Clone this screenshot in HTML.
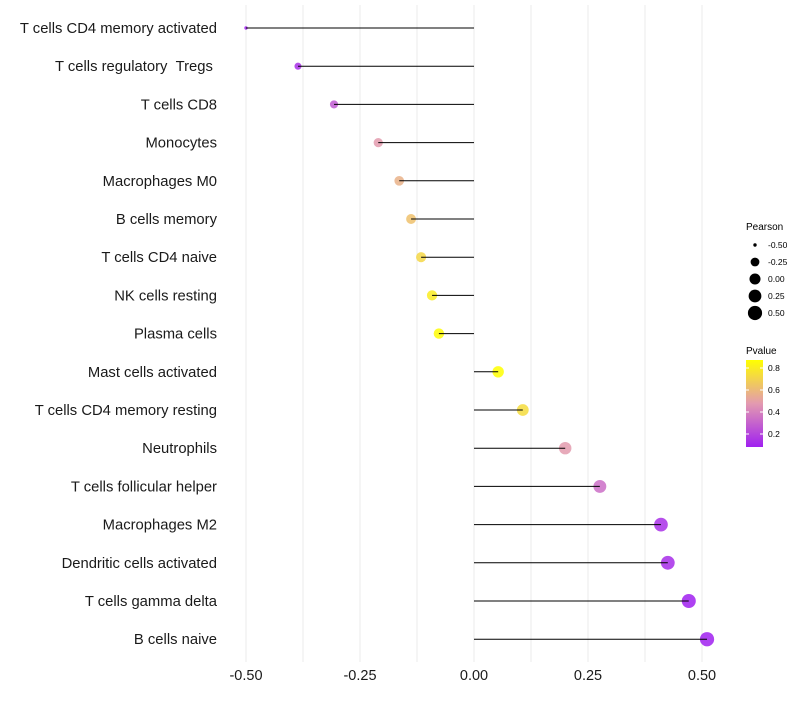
<!DOCTYPE html>
<html><head><meta charset="utf-8"><style>
body{margin:0;background:#fff;font-family:"Liberation Sans",sans-serif;}
svg text{font-family:"Liberation Sans",sans-serif;}
</style></head><body>
<svg id="c" width="800" height="700">
<defs><linearGradient id="pg" x1="0" y1="1" x2="0" y2="0">
<stop offset="0" stop-color="#A020F0"/><stop offset="0.5" stop-color="#E39AB0"/><stop offset="1" stop-color="#FFFF00"/>
</linearGradient></defs>
<g id="grid"></g><g id="marks"></g><g id="ylab"></g><g id="xlab"></g>
<g>
<text x="746" y="230" font-size="10">Pearson</text>
<g id="sizeleg"></g>
</g>
<g>
<text x="746" y="354" font-size="10">Pvalue</text>
<rect x="746" y="360" width="17" height="87" fill="url(#pg)"/>
<g id="colleg"></g>
</g>
</svg>
<script>
const cats=["T cells CD4 memory activated","T cells regulatory\u00a0\u00a0Tregs\u00a0","T cells CD8","Monocytes","Macrophages M0","B cells memory","T cells CD4 naive","NK cells resting","Plasma cells","Mast cells activated","T cells CD4 memory resting","Neutrophils","T cells follicular helper","Macrophages M2","Dendritic cells activated","T cells gamma delta","B cells naive"];
const pearson=[-0.50,-0.386,-0.307,-0.21,-0.164,-0.138,-0.116,-0.092,-0.077,0.053,0.107,0.20,0.276,0.41,0.425,0.471,0.511];
const pvals=[0.1,0.17,0.3,0.5,0.58,0.64,0.72,0.8,0.86,0.88,0.74,0.5,0.36,0.17,0.16,0.11,0.08];
const xticks=[-0.5,-0.25,0,0.25,0.5];
const xtickLabels=["-0.50","-0.25","0.00","0.25","0.50"];
const sizeLeg=[-0.5,-0.25,0,0.25,0.5];
const colLeg=[0.8,0.6,0.4,0.2];
const NS="http://www.w3.org/2000/svg";
const X=v=>474+v*456;
const Y=i=>28+i*38.2;
const R=v=>1.7+5.4*Math.sqrt(Math.max(0,v+0.5));
const CY=p=>434-(p-0.2)*110;
function col(p){const t=Math.max(0,Math.min(1,(p-0.12)/0.75));
const a=[160,32,240],m=[227,154,176],b=[255,255,0];let c;
if(t<0.5){const u=t/0.5;c=a.map((x,i)=>x+(m[i]-x)*u);}else{const u=(t-0.5)/0.5;c=m.map((x,i)=>x+(b[i]-x)*u);}
return `rgb(${c.map(Math.round).join(',')})`;}
function el(t,a,p){const e=document.createElementNS(NS,t);for(const k in a)e.setAttribute(k,a[k]);p.appendChild(e);return e;}
const grid=document.getElementById('grid');
for(let v=-0.5;v<=0.5001;v+=0.125){const g=el('line',{x1:X(v),x2:X(v),y1:5,y2:662,stroke:'#ebebeb','stroke-width':1},grid);

}
const marks=document.getElementById('marks'),ylab=document.getElementById('ylab');
cats.forEach((c,i)=>{
const pt=el('circle',{cx:X(pearson[i]),cy:Y(i),r:R(pearson[i]),fill:col(pvals[i]),'fill-opacity':0.85},marks);


const ln=el('line',{x1:X(0),x2:X(pearson[i]),y1:Y(i),y2:Y(i),stroke:'#000','stroke-width':1},marks);


const t=el('text',{x:217,y:Y(i)+5,'text-anchor':'end','font-size':14.8,fill:'#1a1a1a'},ylab);t.textContent=c;


});
const xl=document.getElementById('xlab');
xticks.forEach((v,i)=>{const t=el('text',{x:X(v),y:680,'text-anchor':'middle','font-size':14.5,fill:'#1a1a1a'},xl);t.textContent=xtickLabels[i];

});
const sl=document.getElementById('sizeleg');
sizeLeg.forEach((v,i)=>{const y=245+i*17;el('circle',{cx:755,cy:y,r:R(v),fill:'#000'},sl);
const t=el('text',{x:768,y:y+3,'font-size':8.5},sl);t.textContent=v.toFixed(2);

});
const cl=document.getElementById('colleg');
colLeg.forEach(p=>{const y=CY(p);el('line',{x1:746,x2:749,y1:y,y2:y,stroke:'#fff'},cl);el('line',{x1:760,x2:763,y1:y,y2:y,stroke:'#fff'},cl);
const t=el('text',{x:768,y:y+3,'font-size':8.5},cl);t.textContent=p.toFixed(1);

});
</script>
</body></html>
